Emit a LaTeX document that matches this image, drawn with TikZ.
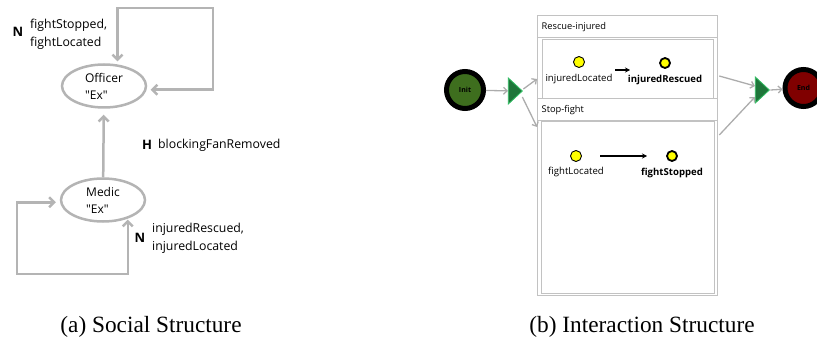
\documentclass[tikz,border=0pt]{standalone}
\usepackage{fontspec}
\setmainfont{Liberation Serif}
\newfontfamily\uif{Open Sans}
\usetikzlibrary{arrows.meta,shapes.geometric,calc}
\definecolor{lgray}{RGB}{180,180,180}
\definecolor{bgray}{RGB}{194,194,194}
\definecolor{agray}{RGB}{172,172,172}
\definecolor{initg}{RGB}{62,110,30}
\definecolor{endr}{RGB}{128,0,0}
\definecolor{tgreen}{RGB}{30,118,58}
\definecolor{tedge}{RGB}{50,190,100}
\definecolor{pyel}{RGB}{255,255,0}
\begin{document}
\begin{tikzpicture}[x=1pt,y=-1pt,
  sbarb/.tip={Straight Barb[length=5pt,width=10pt]},
  gbarb/.tip={Straight Barb[length=3.5pt,width=7pt]},
  ell/.style={ellipse,draw=lgray,line width=2.5pt,minimum width=84pt,minimum height=43pt,inner sep=0pt,align=left,font=\uif\fontsize{12}{17}\selectfont},
  sline/.style={draw=lgray,line width=2.5pt},
  icon/.style={font=\uif\bfseries\fontsize{13}{13}\selectfont,inner sep=0pt},
  slab/.style={font=\uif\fontsize{12.3}{18}\selectfont,align=left,anchor=west,inner sep=0pt},
  garr/.style={draw=agray,line width=1.3pt,-gbarb},
  tri/.style={isosceles triangle,isosceles triangle stretches,fill=tgreen,draw=tedge,line width=0.8pt,minimum width=26pt,minimum height=14pt,inner sep=0pt},
  term/.style={circle,draw=black,line width=5pt,minimum size=37pt,inner sep=0pt,font=\uif\bfseries\fontsize{7}{7}\selectfont},
  bx/.style={draw=bgray,line width=1.3pt,anchor=north west,inner sep=0pt},
  hdr/.style={bx,minimum width=180pt,minimum height=22pt,text width=172pt,inner xsep=4pt,align=left,font=\uif\fontsize{9.3}{11}\selectfont},
  pl/.style={circle,fill=pyel,draw=black,line width=0.9pt,minimum size=11pt,inner sep=0pt},
  plb/.style={pl,line width=1.8pt,minimum size=10pt},
  lab/.style={font=\uif\fontsize{9.6}{11}\selectfont,inner sep=0pt},
  labb/.style={font=\uif\bfseries\fontsize{9.6}{11}\selectfont,inner sep=0pt},
  parr/.style={draw=black,line width=1.6pt,-{Stealth[length=5pt,width=5pt]}},
  captext/.style={font=\fontsize{23.3}{26}\selectfont,inner sep=0pt}]
\useasboundingbox (0,0) rectangle (817,350);
\clip (0,0) rectangle (817,350);

% ---------- (a) Social structure ----------
\node[ell] (off) at (104,86) {Officer\\"Ex"};
\node[ell] (med) at (103,200) {Medic\\"Ex"};
\draw[sline,-sbarb,shorten >=6pt] (med) -- (off);
\draw[sline,sbarb-sbarb,shorten <=3pt,shorten >=4pt] (off.58) |- (213,8) |- (off.-5);
\draw[sline,sbarb-sbarb,shorten <=4pt,shorten >=1pt] (med.183) -| (17,274) -| (med.-37);

\node[icon] (n1) at (18,32) {N};
\node[slab] (l1) at (30,34) {fightStopped,\\fightLocated};
\node[icon] (h1) at (147,145) {H};
\node[slab] (l2) at (158,145) {blockingFanRemoved};
\node[icon] (n2) at (140,238) {N};
\node[slab] (l3) at (152,238) {injuredRescued,\\injuredLocated};

\node[captext] (capA) at (151,327) {(a) Social Structure};

% ---------- (b) Interaction structure ----------
\node[term,fill=initg] (init) at (465,90) {Init};
\node[tri] (split) at (514,91) {};
\node[bx,minimum width=180pt,minimum height=280pt] (cont) at (537,15) {};
\node[hdr] (rhead) at (537,15) {Rescue-injured};
\node[bx,minimum width=171pt,minimum height=59pt] (rbody) at (542,39) {};
\node[hdr] (shead) at (537,98) {Stop-fight};
\node[bx,minimum width=173pt,minimum height=172pt] (sbody) at (541,121) {};
\node[tri] (merge) at (761,90) {};
\node[term,fill=endr] (end) at (803.5,88) {End};

\draw[garr] (init) -- (split);
\draw[garr] ([yshift=2pt]split.east) -- ($(cont.north west)+(0,64)$);
\draw[garr] ([xshift=-1pt,yshift=-6pt]split.east) -- ($(cont.north west)+(0,112)$);
\draw[garr] ($(cont.north east)+(1,61)$) -- ([yshift=4pt]merge.west);
\draw[garr] ($(cont.north east)+(1,120)$) -- ([yshift=-7pt]merge.west);
\draw[garr] (merge.east) -- (end);

\node[pl] (pIL) at (579,62) {};
\node[lab] (lIL) at (579,79) {injuredLocated};
\node[plb] (pIR) at (665,63) {};
\node[labb] (lIR) at (665,80) {injuredRescued};
\draw[parr,shorten <=36pt,shorten >=35pt] ([yshift=-8pt]pIL.center) -- ([yshift=-7pt]pIR.center);

\node[pl] (pFL) at (576,156) {};
\node[lab] (lFL) at (576,172) {fightLocated};
\node[plb] (pFS) at (672,156) {};
\node[labb] (lFS) at (672,173) {fightStopped};
\draw[parr,shorten <=24pt,shorten >=25pt] (pFL.center) -- (pFS.center);

\node[captext] (capB) at (642,327) {(b) Interaction Structure};
\end{tikzpicture}
\end{document}
